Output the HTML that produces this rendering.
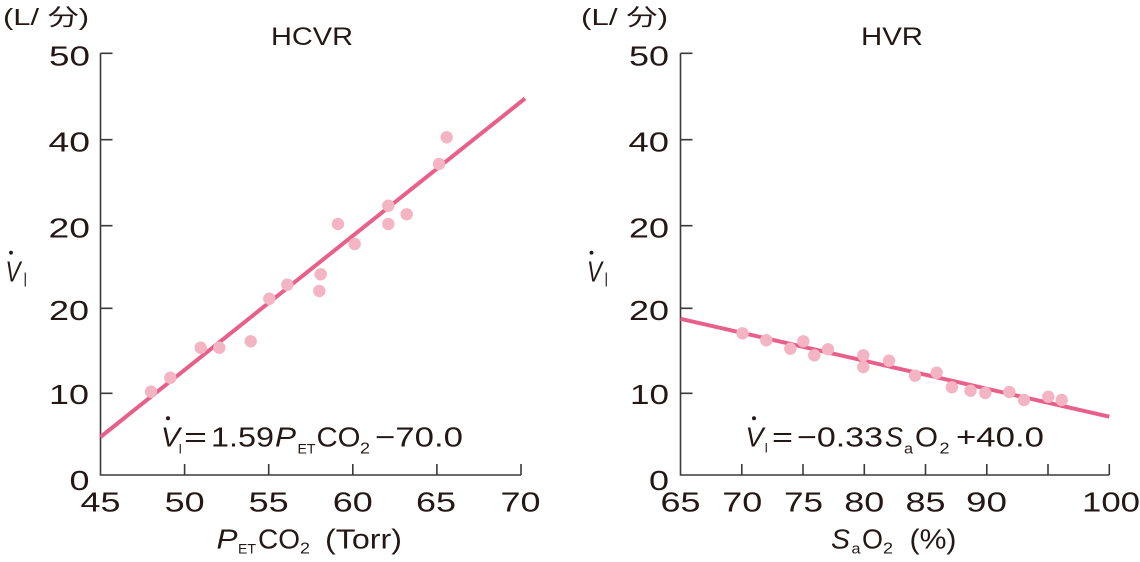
<!DOCTYPE html>
<html><head><meta charset="utf-8"><style>
html,body{margin:0;padding:0;background:#fff;}
svg{display:block;}
text{font-family:"Liberation Sans","Noto Sans CJK JP",sans-serif;fill:#231815;}
</style></head><body>
<svg width="1140" height="562" viewBox="0 0 1140 562" xmlns="http://www.w3.org/2000/svg">
<rect width="1140" height="562" fill="#fff"/>

<!-- ===== LEFT CHART ===== -->
<text x="3" y="25" font-size="23" textLength="86" lengthAdjust="spacingAndGlyphs">(L/ 分)</text>
<text x="271" y="45" font-size="25" textLength="82" lengthAdjust="spacingAndGlyphs">HCVR</text>

<g stroke="#3a3a3a" stroke-width="1.6" fill="none">
  <path d="M100.5,53.3 V475 H521"/>
  <path d="M100.5,53.3 H112.5 M100.5,139.7 H112.5 M100.5,225.7 H112.5 M100.5,308.3 H112.5 M100.5,393.3 H112.5"/>
  <path d="M184.6,475 V464 M268.7,475 V464 M352.8,475 V464 M436.9,475 V464 M521,475 V464"/>
</g>

<g font-size="28">
  <text x="49" y="65.3" textLength="41" lengthAdjust="spacingAndGlyphs">50</text>
  <text x="48.5" y="151.5" textLength="41.5" lengthAdjust="spacingAndGlyphs">40</text>
  <text x="48.5" y="237.5" textLength="41.5" lengthAdjust="spacingAndGlyphs">20</text>
  <text x="49" y="320" textLength="40" lengthAdjust="spacingAndGlyphs">20</text>
  <text x="49" y="404" textLength="40" lengthAdjust="spacingAndGlyphs">10</text>
  <text x="69.5" y="490" textLength="20" lengthAdjust="spacingAndGlyphs">0</text>

  <text x="80.5" y="511.5" textLength="40" lengthAdjust="spacingAndGlyphs">45</text>
  <text x="164.6" y="511.5" textLength="40" lengthAdjust="spacingAndGlyphs">50</text>
  <text x="248.7" y="511.5" textLength="40" lengthAdjust="spacingAndGlyphs">55</text>
  <text x="332.8" y="511.5" textLength="40" lengthAdjust="spacingAndGlyphs">60</text>
  <text x="416.0" y="511.5" textLength="40" lengthAdjust="spacingAndGlyphs">65</text>
  <text x="500.5" y="511.5" textLength="40" lengthAdjust="spacingAndGlyphs">70</text>
</g>

<!-- y axis title left -->
<text x="5.5" y="281.7" font-size="29" font-style="italic" textLength="15" lengthAdjust="spacingAndGlyphs">V</text>
<circle cx="11" cy="252.7" r="1.9" fill="#231815"/>
<text x="23.5" y="286.7" font-size="20" textLength="3.5" lengthAdjust="spacingAndGlyphs">I</text>

<!-- x axis title left -->
<text x="216.5" y="548.3" font-size="28" font-style="italic" textLength="21" lengthAdjust="spacingAndGlyphs">P</text>
<text x="238" y="553.5" font-size="14" textLength="18" lengthAdjust="spacingAndGlyphs">ET</text>
<text x="258" y="548.3" font-size="28" textLength="42" lengthAdjust="spacingAndGlyphs">CO</text>
<text x="300" y="553.5" font-size="16" textLength="10" lengthAdjust="spacingAndGlyphs">2</text>
<text x="325" y="548.3" font-size="28" textLength="77" lengthAdjust="spacingAndGlyphs">(Torr)</text>

<!-- regression line left -->
<line x1="100.5" y1="437" x2="525" y2="98.5" stroke="#e8608a" stroke-width="4"/>
<g fill="#f4b4c4">
  <circle cx="151" cy="391.7" r="6.2"/>
  <circle cx="170.3" cy="377.7" r="6.2"/>
  <circle cx="200.7" cy="347.7" r="6.2"/>
  <circle cx="219.3" cy="347.7" r="6.2"/>
  <circle cx="250.7" cy="341.3" r="6.2"/>
  <circle cx="269.3" cy="298.7" r="6.2"/>
  <circle cx="287.3" cy="284.7" r="6.2"/>
  <circle cx="319.3" cy="291" r="6.2"/>
  <circle cx="320.7" cy="274.3" r="6.2"/>
  <circle cx="338" cy="224" r="6.2"/>
  <circle cx="354.7" cy="244" r="6.2"/>
  <circle cx="388.3" cy="224" r="6.2"/>
  <circle cx="388.3" cy="205.7" r="6.2"/>
  <circle cx="406.7" cy="214.3" r="6.2"/>
  <circle cx="439" cy="164" r="6.2"/>
  <circle cx="446.7" cy="137.3" r="6.2"/>
</g>

<!-- equation left -->
<text x="161" y="446.7" font-size="28" font-style="italic" textLength="19" lengthAdjust="spacingAndGlyphs">V</text>
<circle cx="168" cy="418.3" r="2" fill="#231815"/>
<text x="178.5" y="453.3" font-size="14" textLength="3.5" lengthAdjust="spacingAndGlyphs">I</text>
<text x="184" y="446.7" font-size="28" textLength="23" lengthAdjust="spacingAndGlyphs">=</text>
<text x="211" y="446.7" font-size="28" textLength="63" lengthAdjust="spacingAndGlyphs">1.59</text>
<text x="275" y="446.7" font-size="28" font-style="italic" textLength="21" lengthAdjust="spacingAndGlyphs">P</text>
<text x="297.5" y="453.3" font-size="14" textLength="18" lengthAdjust="spacingAndGlyphs">ET</text>
<text x="316.5" y="446.7" font-size="28" textLength="44" lengthAdjust="spacingAndGlyphs">CO</text>
<text x="360" y="453.3" font-size="16" textLength="10" lengthAdjust="spacingAndGlyphs">2</text>
<text x="375" y="446.7" font-size="28" textLength="88" lengthAdjust="spacingAndGlyphs">−70.0</text>

<!-- ===== RIGHT CHART ===== -->
<text x="581" y="25" font-size="23" textLength="87" lengthAdjust="spacingAndGlyphs">(L/ 分)</text>
<text x="861" y="45" font-size="25" textLength="62" lengthAdjust="spacingAndGlyphs">HVR</text>

<g stroke="#3a3a3a" stroke-width="1.6" fill="none">
  <path d="M680.5,53.3 V475 H1109.3"/>
  <path d="M680.5,53.3 H692.5 M680.5,139.7 H692.5 M680.5,225.7 H692.5 M680.5,308.3 H692.5 M680.5,393.3 H692.5"/>
  <path d="M741.8,475 V464 M803,475 V464 M864.3,475 V464 M925.5,475 V464 M986.8,475 V464 M1048,475 V464 M1109.3,475 V464"/>
</g>

<g font-size="28">
  <text x="629" y="65.3" textLength="40" lengthAdjust="spacingAndGlyphs">50</text>
  <text x="628.5" y="151.5" textLength="40.5" lengthAdjust="spacingAndGlyphs">40</text>
  <text x="629" y="237.5" textLength="40" lengthAdjust="spacingAndGlyphs">20</text>
  <text x="629" y="320" textLength="40" lengthAdjust="spacingAndGlyphs">20</text>
  <text x="630" y="404" textLength="39" lengthAdjust="spacingAndGlyphs">10</text>
  <text x="649" y="490" textLength="20" lengthAdjust="spacingAndGlyphs">0</text>

  <text x="660.5" y="511.5" textLength="40" lengthAdjust="spacingAndGlyphs">65</text>
  <text x="722.3" y="511.5" textLength="40" lengthAdjust="spacingAndGlyphs">70</text>
  <text x="784" y="511.5" textLength="39" lengthAdjust="spacingAndGlyphs">75</text>
  <text x="844.3" y="511.5" textLength="40" lengthAdjust="spacingAndGlyphs">80</text>
  <text x="905.5" y="511.5" textLength="40" lengthAdjust="spacingAndGlyphs">85</text>
  <text x="966" y="511.5" textLength="41" lengthAdjust="spacingAndGlyphs">90</text>
  <text x="1082" y="511.5" textLength="58" lengthAdjust="spacingAndGlyphs">100</text>
</g>

<!-- y axis title right -->
<text x="587" y="281.7" font-size="29" font-style="italic" textLength="15" lengthAdjust="spacingAndGlyphs">V</text>
<circle cx="591.5" cy="252.7" r="1.9" fill="#231815"/>
<text x="604.5" y="286.7" font-size="20" textLength="3.5" lengthAdjust="spacingAndGlyphs">I</text>

<!-- x axis title right -->
<text x="831" y="548.3" font-size="28" font-style="italic" textLength="19" lengthAdjust="spacingAndGlyphs">S</text>
<text x="851.5" y="553.5" font-size="15" textLength="9" lengthAdjust="spacingAndGlyphs">a</text>
<text x="862" y="548.3" font-size="28" textLength="21" lengthAdjust="spacingAndGlyphs">O</text>
<text x="883" y="553.5" font-size="16" textLength="10" lengthAdjust="spacingAndGlyphs">2</text>
<text x="909.5" y="548.3" font-size="28" textLength="47" lengthAdjust="spacingAndGlyphs">(%)</text>

<!-- regression line right -->
<line x1="680.5" y1="318.8" x2="1109.3" y2="416.7" stroke="#e8608a" stroke-width="4"/>
<g fill="#f4b4c4">
  <circle cx="742.5" cy="333.3" r="6.2"/>
  <circle cx="766.3" cy="340.3" r="6.2"/>
  <circle cx="790.3" cy="348.7" r="6.2"/>
  <circle cx="803.3" cy="341.3" r="6.2"/>
  <circle cx="814.3" cy="355.3" r="6.2"/>
  <circle cx="828" cy="349.3" r="6.2"/>
  <circle cx="863.3" cy="355.3" r="6.2"/>
  <circle cx="863.3" cy="367" r="6.2"/>
  <circle cx="889" cy="360.7" r="6.2"/>
  <circle cx="915" cy="375.7" r="6.2"/>
  <circle cx="936.7" cy="372.7" r="6.2"/>
  <circle cx="951.8" cy="387.3" r="6.2"/>
  <circle cx="970.5" cy="390.7" r="6.2"/>
  <circle cx="985.3" cy="393" r="6.2"/>
  <circle cx="1009.3" cy="392" r="6.2"/>
  <circle cx="1024" cy="400" r="6.2"/>
  <circle cx="1048.3" cy="396.7" r="6.2"/>
  <circle cx="1061.7" cy="400" r="6.2"/>
</g>

<!-- equation right -->
<text x="745.5" y="446.7" font-size="28" font-style="italic" textLength="18" lengthAdjust="spacingAndGlyphs">V</text>
<circle cx="754" cy="418.3" r="2" fill="#231815"/>
<text x="764.5" y="452.5" font-size="14" textLength="3.5" lengthAdjust="spacingAndGlyphs">I</text>
<text x="772" y="446.7" font-size="28" textLength="21" lengthAdjust="spacingAndGlyphs">=</text>
<text x="797" y="446.7" font-size="28" textLength="86" lengthAdjust="spacingAndGlyphs">−0.33</text>
<text x="885" y="446.7" font-size="28" font-style="italic" textLength="18" lengthAdjust="spacingAndGlyphs">S</text>
<text x="904" y="453.3" font-size="15" textLength="9" lengthAdjust="spacingAndGlyphs">a</text>
<text x="915" y="446.7" font-size="28" textLength="23" lengthAdjust="spacingAndGlyphs">O</text>
<text x="939.5" y="453.3" font-size="16" textLength="10" lengthAdjust="spacingAndGlyphs">2</text>
<text x="956" y="446.7" font-size="28" textLength="88" lengthAdjust="spacingAndGlyphs">+40.0</text>
</svg>
</body></html>
